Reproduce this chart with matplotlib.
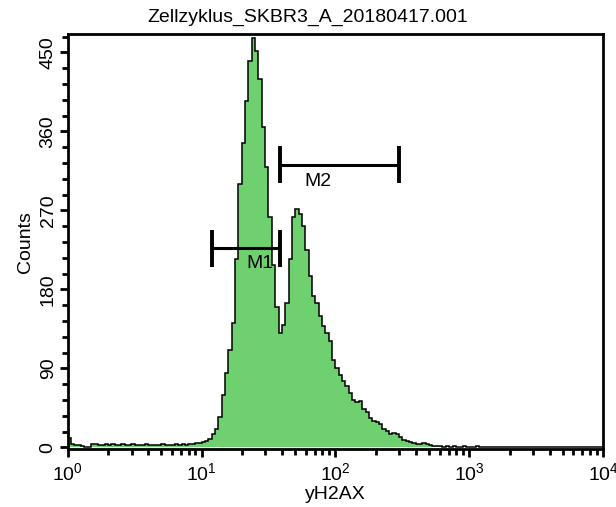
import numpy as np
import matplotlib
matplotlib.use("Agg")
import matplotlib.pyplot as plt
from matplotlib.ticker import MultipleLocator, LogLocator

plt.rcParams["font.family"] = ["Liberation Sans", "DejaVu Sans"]
plt.rcParams["mathtext.fontset"] = "custom"
plt.rcParams["mathtext.rm"] = "Liberation Sans"
plt.rcParams["mathtext.it"] = "Liberation Sans:italic"

title = "Zellzyklus_SKBR3_A_20180417.001"
x_label = "yH2AX"
y_label = "Counts"

# 160 channels, log-spaced over 4 decades
n_bins = 160
counts = [
    11, 4, 3, 3, 2, 0, 1, 4, 4, 3,
    3, 4, 3, 4, 3, 3, 4, 3, 3, 4,
    3, 3, 3, 4, 3, 3, 3, 3, 4, 3,
    3, 3, 4, 3, 4, 3, 4, 4, 5, 5,
    6, 7, 10, 15, 21, 35, 60, 85, 111, 142,
    215, 300, 347, 395, 440, 466, 452, 420, 365, 320,
    262, 208, 160, 130, 140, 165, 215, 262, 272, 266,
    252, 225, 195, 172, 164, 150, 138, 130, 121, 100,
    90, 82, 76, 70, 62, 54, 52, 53, 44, 40,
    34, 30, 29, 27, 21, 19, 15, 17, 15, 12,
    8, 7, 6, 5, 4, 4, 5, 4, 3, 2,
    2, 2, 1, 2, 1, 2, 1, 1, 2, 1,
    1, 1, 2, 1, 1, 1, 1, 1, 1, 1,
    1, 1, 1, 1, 1, 1, 1, 1, 1, 1,
    1, 1, 1, 0, 0, 0, 0, 0, 0, 0,
    0, 0, 0, 0, 0, 0, 0, 0, 0, 0,
]

# markers
marker_names = ["M1", "M2"]
marker_low = [11.9, 38.5]
marker_high = [38.5, 298]
marker_level = [227, 322]
marker_label_x = [27.3, 74]
marker_label_y = [209, 303]
cap_half = 21

edges = np.logspace(0, 4, n_bins + 1)

fig = plt.figure(figsize=(6.16, 5.07), dpi=100)
ax = fig.add_axes([0.110, 0.114, 0.869, 0.819])

ax.stairs(counts, edges, fill=True, color="#6fd06f", linewidth=0)
ax.stairs(counts, edges, color="black", linewidth=1.1)

for name, lo, hi, lev, lx, ly in zip(marker_names, marker_low, marker_high,
                                     marker_level, marker_label_x, marker_label_y):
    ax.plot([lo, hi], [lev, lev], color="black", lw=2.2, solid_capstyle="butt")
    ax.plot([lo, lo], [lev - cap_half, lev + cap_half], color="black", lw=2.8,
            solid_capstyle="butt")
    ax.plot([hi, hi], [lev - cap_half, lev + cap_half], color="black", lw=2.8,
            solid_capstyle="butt")
    ax.text(lx, ly, name, ha="center", va="center", fontsize=14)

ax.set_xscale("log")
ax.set_xlim(1, 1e4)
ax.set_ylim(-2, 471)

ax.yaxis.set_major_locator(MultipleLocator(90))
ax.yaxis.set_minor_locator(MultipleLocator(18))
ax.xaxis.set_major_locator(LogLocator(base=10, numticks=10))
ax.xaxis.set_minor_locator(LogLocator(base=10, subs=np.arange(2, 10), numticks=20))

ax.tick_params(axis="both", which="major", direction="out", length=6, width=2,
               labelsize=14)
ax.tick_params(axis="both", which="minor", direction="out", length=4, width=2)
ax.tick_params(axis="y", pad=2)
for lbl in ax.get_yticklabels():
    lbl.set_rotation(90)
    lbl.set_va("center")

for s in ax.spines.values():
    s.set_linewidth(2)

fig.text(0.5, 0.965, title, ha="center", va="center", fontsize=14)
ax.set_xlabel(x_label, fontsize=14, labelpad=1)
ax.set_ylabel(y_label, fontsize=14, labelpad=4)

fig.savefig("out.png", dpi=100)
